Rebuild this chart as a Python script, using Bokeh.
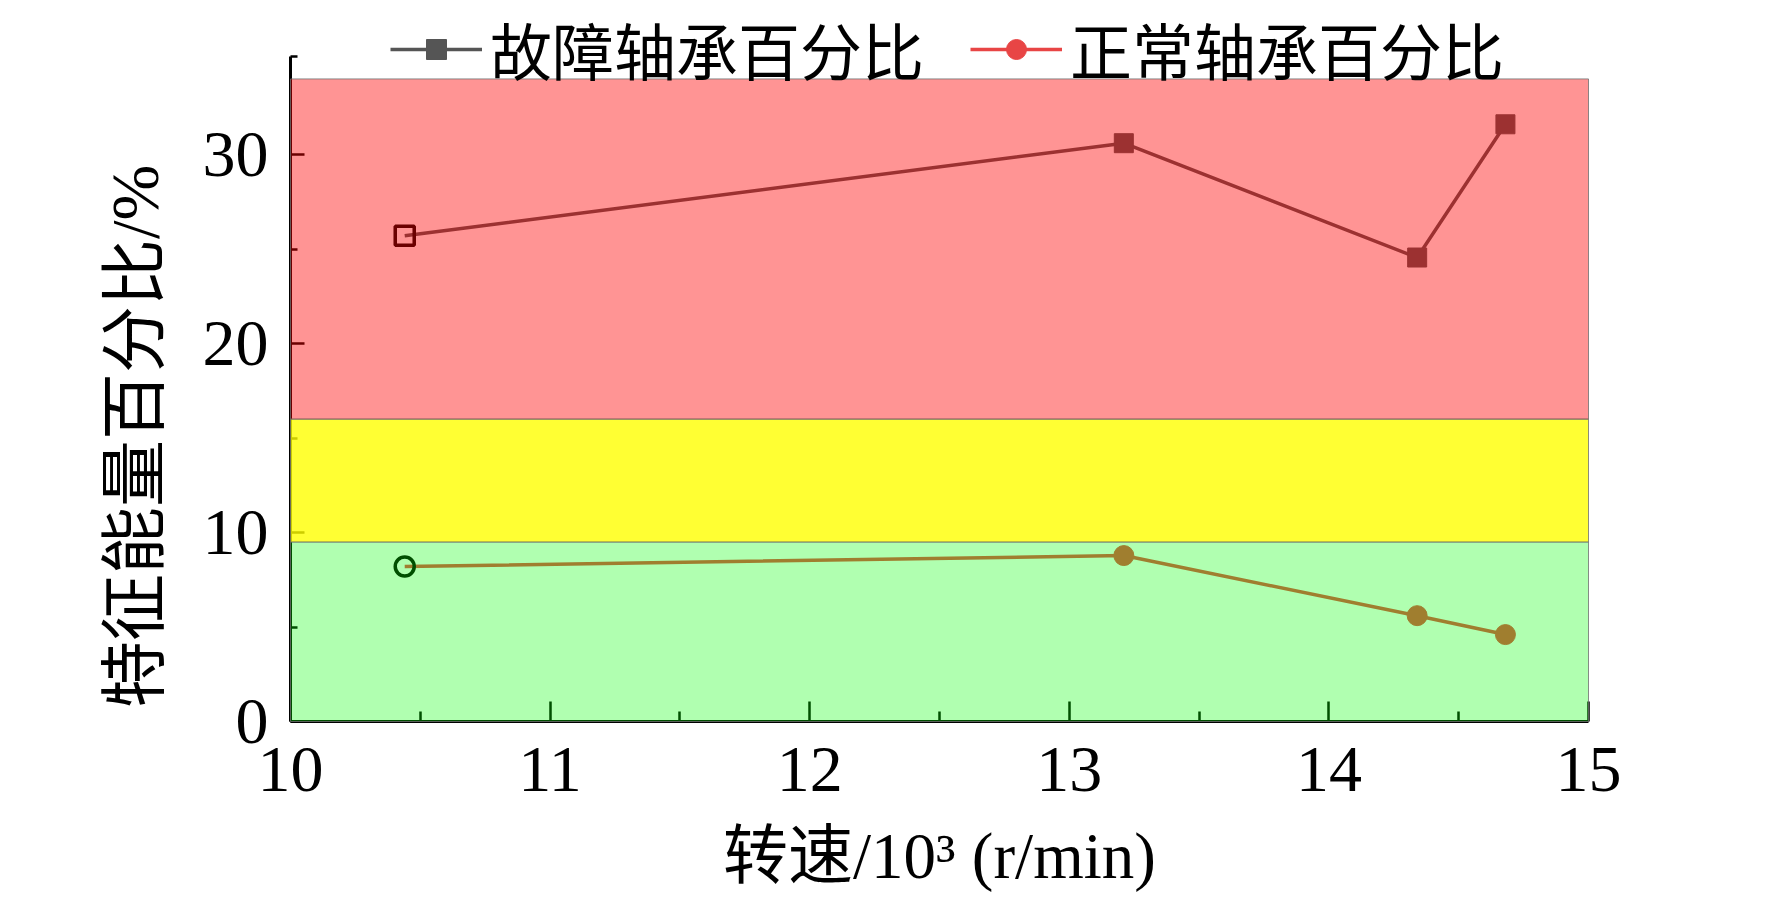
from bokeh.plotting import figure
from bokeh.models import Range1d, FixedTicker, Legend, LegendItem, ColumnDataSource
from bokeh.embed import file_html
from bokeh.resources import INLINE

# ---- data ----
speed = [10.44, 13.21, 14.34, 14.68]          # 转速 / 10^3 r/min
fault_pct = [25.7, 30.6, 24.55, 31.6]         # 故障轴承百分比
normal_pct = [8.2, 8.78, 5.6, 4.6]            # 正常轴承百分比

band_bottom = [0.0, 9.5, 16.0]
band_top = [9.5, 16.0, 34.0]
band_color = ["#00ff00", "#ffff00", "#ff0000"]
band_alpha = [0.31, 0.8, 0.42]

x_ticks = [10, 11, 12, 13, 14, 15]
x_minor = [10.5, 11.5, 12.5, 13.5, 14.5]
y_ticks = [0, 10, 20, 30]
y_minor = [5, 15, 25, 35.2]

label_fault = "故障轴承百分比"
label_normal = "正常轴承百分比"
x_title = "转速/10³ (r/min)"
y_title = "特征能量百分比/%" + "\u00a0" * 9

SERIF = "Liberation Serif"
CJK = "Noto Sans CJK SC"
MIX = "Liberation Serif, Noto Sans CJK SC"

p = figure(frame_width=1298, frame_height=721, output_backend="svg",
           toolbar_location=None, x_range=Range1d(10, 15), y_range=Range1d(0, 38.15),
           min_border_left=290, min_border_right=150, min_border_top=0, min_border_bottom=100)
p.outline_line_color = None
p.xgrid.visible = False
p.ygrid.visible = False
p.background_fill_color = "white"

# series
f_line = p.line(speed, fault_pct, line_color="#555555", line_width=3.5)
f_mark = p.scatter(speed[1:], fault_pct[1:], marker="square", size=19, fill_color="#555555", line_color="#555555")
p.scatter(speed[:1], fault_pct[:1], marker="square", size=19, fill_color=None, line_color="#000000", line_width=3.5)

n_line = p.line(speed, normal_pct, line_color="#e84545", line_width=3.5)
n_mark = p.scatter(speed[1:], normal_pct[1:], marker="circle", size=20, fill_color="#e84545", line_color="#e84545")
p.scatter(speed[:1], normal_pct[:1], marker="circle", size=19, fill_color=None, line_color="#000000", line_width=3.5)

# translucent bands drawn over everything
src = ColumnDataSource(dict(b=band_bottom, t=band_top, c=band_color, a=band_alpha,
                            l=[x_ticks[0]] * 3, r=[x_ticks[-1]] * 3))
p.quad(left="l", right="r", bottom="b", top="t", fill_color="c", fill_alpha="a",
       line_color="#6f6f6f", line_alpha=0.8, line_width=1, source=src, level="overlay")

# axes
for ax in (p.xaxis[0], p.yaxis[0]):
    ax.axis_line_width = 3
    ax.axis_line_color = "black"
    ax.major_tick_out = 0
    ax.minor_tick_out = 0
    ax.major_tick_line_width = 2.5
    ax.minor_tick_line_width = 2.5
    ax.major_tick_line_color = "black"
    ax.minor_tick_line_color = "black"
    ax.major_label_text_font = SERIF
    ax.major_label_text_font_size = "66px"
    ax.major_label_text_color = "black"

p.yaxis.bounds = (0, 35.2)
p.xaxis.ticker = FixedTicker(ticks=x_ticks, minor_ticks=x_minor)
p.yaxis.ticker = FixedTicker(ticks=y_ticks, minor_ticks=y_minor)
p.xaxis.major_tick_in = 20
p.xaxis.minor_tick_in = 10
p.yaxis.major_tick_in = 14
p.yaxis.minor_tick_in = 7
p.xaxis.major_label_standoff = 26
p.yaxis.major_label_standoff = 22

p.xaxis.axis_label = x_title
p.xaxis.axis_label_text_font = MIX
p.xaxis.axis_label_text_font_size = "65px"
p.xaxis.axis_label_text_font_style = "normal"
p.xaxis.axis_label_text_color = "black"
p.xaxis.axis_label_standoff = 26

p.yaxis.axis_label = y_title
p.yaxis.axis_label_text_font = MIX
p.yaxis.axis_label_text_font_size = "67px"
p.yaxis.axis_label_text_font_style = "normal"
p.yaxis.axis_label_text_color = "black"
p.yaxis.axis_label_standoff = 28

legend = Legend(items=[LegendItem(label=label_fault, renderers=[f_line, f_mark]),
                       LegendItem(label=label_normal, renderers=[n_line, n_mark])],
                location=(100, 627), orientation="horizontal",
                background_fill_alpha=0, border_line_alpha=0,
                label_text_font=CJK, label_text_font_size="62px", label_text_color="black",
                glyph_width=92, glyph_height=50, label_standoff=8, spacing=46,
                padding=0, margin=0)
p.add_layout(legend)

open("out.html", "w").write(file_html(p, INLINE))
